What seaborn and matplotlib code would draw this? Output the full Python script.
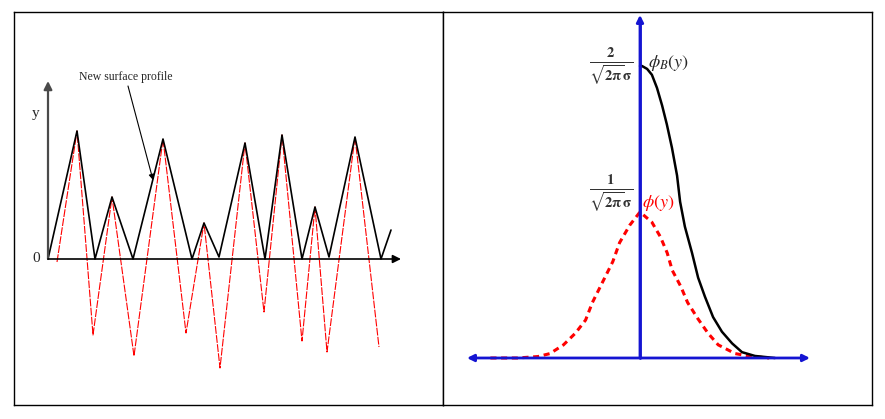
import matplotlib
matplotlib.use("Agg")
import matplotlib.pyplot as plt
import seaborn as sns

sns.set_style("white")
plt.rcParams["font.family"] = ["Liberation Serif", "DejaVu Serif"]
plt.rcParams["mathtext.fontset"] = "stix"

# left panel: original (red) and new (black) surface profile
orig_x = [9, 29, 45, 64, 86, 115, 138, 156, 172, 197, 216, 234, 254, 267, 279, 307, 331]
orig_y = [-3, 128, -76, 62, -97, 120, -74, 36, -109, 116, -53, 124, -82, 52, -93, 122, -88]
new_x = [0, 29, 47, 64, 85, 115, 144, 156, 171, 197, 217, 234, 254, 267, 281, 307, 333, 343]
new_y = [0, 128, 0, 62, 0, 120, 0, 36, 2, 116, 0, 124, 0, 52, 2, 122, 0, 29]

# right panel: phi(y) (red dashed) and phi_B(y) (black)
phi_x = [-4.4, -3.6, -3.0, -2.65, -2.25, -1.9, -1.6, -1.4, -1.1, -0.8, -0.6, -0.3, 0.0,
         0.35, 0.6, 0.8, 0.95, 1.2, 1.4, 1.7, 2.0, 2.3, 2.8, 3.3, 3.8]
phi_y = [0.0, 0.0, 0.01, 0.03, 0.09, 0.17, 0.26, 0.38, 0.52, 0.66, 0.79, 0.91, 1.0,
         0.93, 0.83, 0.72, 0.60, 0.49, 0.38, 0.27, 0.17, 0.09, 0.03, 0.01, 0.0]
phib_x = [0.0, 0.06, 0.21, 0.35, 0.5, 0.65, 0.79, 0.94, 1.09, 1.18, 1.32, 1.53, 1.71,
          1.91, 2.15, 2.41, 2.71, 3.0, 3.38, 3.97]
phib_y = [2.0, 2.0, 1.98, 1.94, 1.85, 1.73, 1.60, 1.44, 1.25, 1.07, 0.90, 0.72, 0.55,
          0.42, 0.28, 0.18, 0.10, 0.04, 0.014, 0.0]

W, H = 885, 419
fig = plt.figure(figsize=(W / 100, H / 100), dpi=100)
ax1 = fig.add_axes([14 / W, (H - 405) / H, 429 / W, 393 / H])
ax2 = fig.add_axes([443 / W, (H - 405) / H, 429 / W, 393 / H])

for ax in (ax1, ax2):
    ax.set_xticks([])
    ax.set_yticks([])
    for s in ax.spines.values():
        s.set_visible(True)
        s.set_color("black")
        s.set_linewidth(1.0)

# ---- left panel
ax1.set_xlim(-34, 395)
ax1.set_ylim(-146, 247)
sns.lineplot(x=orig_x, y=orig_y, sort=False, estimator=None, ax=ax1,
             color="red", linewidth=0.8, linestyle=(0, (7, 1.2)))
sns.lineplot(x=new_x, y=new_y, sort=False, estimator=None, ax=ax1,
             color="black", linewidth=1.2)
ax1.annotate("", xy=(0, 178), xytext=(0, 0),
             arrowprops=dict(arrowstyle="-|>", color="#4a4a4a", lw=1.6,
                             mutation_scale=12, shrinkA=0, shrinkB=0))
ax1.annotate("", xy=(353, 0), xytext=(0, 0),
             arrowprops=dict(arrowstyle="-|>", color="black", lw=1.2,
                             mutation_scale=12, shrinkA=0, shrinkB=0))
ax1.text(-12, 146, "y", fontsize=11, ha="center", va="center")
ax1.text(-12, 1, "0", fontsize=11, ha="center", va="center")
ax1.text(78, 182, "New surface profile", fontsize=8.5, ha="center", va="center")
ax1.annotate("", xy=(105, 79), xytext=(80, 173),
             arrowprops=dict(arrowstyle="-|>", color="black", lw=0.8,
                             mutation_scale=8, shrinkA=0, shrinkB=0))

# ---- right panel
ax2.set_xlim(-5.794, 6.824)
ax2.set_ylim(-0.322, 2.370)
blue = "#1414d2"
ax2.annotate("", xy=(5.0, 0), xytext=(-5.09, 0),
             arrowprops=dict(arrowstyle="<|-|>", color=blue, lw=2,
                             mutation_scale=10, shrinkA=0, shrinkB=0))
ax2.annotate("", xy=(0, 2.35), xytext=(0, 0),
             arrowprops=dict(arrowstyle="-|>", color=blue, lw=2,
                             mutation_scale=10, shrinkA=0, shrinkB=0))
sns.lineplot(x=phi_x, y=phi_y, sort=False, estimator=None, ax=ax2,
             color="red", linewidth=2.2, linestyle=(0, (2, 1.5)))
sns.lineplot(x=phib_x, y=phib_y, sort=False, estimator=None, ax=ax2,
             color="black", linewidth=1.8)
ax2.plot([0, 0], [0, 2.3], color=blue, lw=2)

ax2.text(-0.85, 2.0, r"$\mathbf{\frac{2}{\sqrt{2\pi}\sigma}}$", fontsize=15,
         ha="center", va="center", color="#333333")
ax2.text(-0.85, 1.13, r"$\mathbf{\frac{1}{\sqrt{2\pi}\sigma}}$", fontsize=15,
         ha="center", va="center", color="#333333")
ax2.text(0.25, 2.02, r"$\phi_B(y)$", fontsize=13, ha="left", va="center")
ax2.text(0.07, 1.06, r"$\phi(y)$", fontsize=13, ha="left", va="center", color="red")

fig.savefig("out.png", dpi=100)
